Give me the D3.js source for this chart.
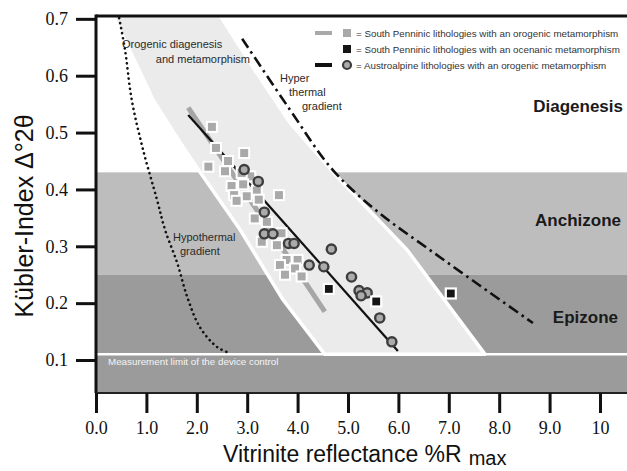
<!DOCTYPE html>
<html>
<head>
<meta charset="utf-8">
<script src="https://cdn.jsdelivr.net/npm/d3@7"></script>
<style>
  body { margin: 0; background: #fff; }
  svg text { font-family: "Liberation Sans", Arial, sans-serif; }
</style>
</head>
<body>
<div id="chart"></div>
<script>
// tick values
var xTicks = [0, 1, 2, 3, 4, 5, 6, 7, 8, 9, 10];
var yTicks = [0.1, 0.2, 0.3, 0.4, 0.5, 0.6, 0.7];

// zone limits (Kübler index)
var zoneLimits = [0.43, 0.25, 0.11];

// orogenic diagenesis and metamorphism band [Rmax, KI]
var bandLeft = [[0.34, 0.706], [1.13, 0.558], [1.67, 0.482], [2.06, 0.431], [2.86, 0.329], [3.71, 0.206], [4.54, 0.11]];
var bandRight = [[7.72, 0.11], [6.17, 0.294], [4.84, 0.417], [3.85, 0.517], [3.15, 0.61], [2.46, 0.706]];

// hypothermal gradient (dotted)
var hypoCurve = [[0.44, 0.71], [0.575, 0.646], [0.708, 0.558], [0.933, 0.470], [1.21, 0.382], [1.37, 0.329], [1.61, 0.271], [1.81, 0.211], [2.06, 0.158], [2.40, 0.123], [2.66, 0.112]];

// hyper thermal gradient (dash-dot)
var hyperCurve = [[2.90, 0.665], [3.85, 0.540], [4.70, 0.434], [5.60, 0.360], [6.57, 0.297], [7.60, 0.232], [8.67, 0.165]];

// regression lines
var regGrey = [[1.83, 0.544], [4.54, 0.185]];
var regBlack = [[1.83, 0.531], [5.99, 0.116]];

// South Penninic, orogenic metamorphism (grey squares)
var spOrogenic = [
  [2.30, 0.510], [2.38, 0.473], [2.94, 0.464], [2.62, 0.450], [2.23, 0.440], [2.56, 0.432],
  [3.06, 0.423], [2.89, 0.429], [2.69, 0.406], [2.92, 0.409], [3.19, 0.398], [3.63, 0.390],
  [2.74, 0.390], [2.99, 0.388], [2.79, 0.380], [3.23, 0.382], [3.15, 0.349], [3.39, 0.343],
  [3.68, 0.323], [3.29, 0.308], [3.59, 0.302], [4.00, 0.276], [3.78, 0.276], [3.65, 0.267],
  [3.95, 0.261], [3.75, 0.250], [4.08, 0.247]
];

// South Penninic, oceanic metamorphism (black squares)
var spOceanic = [[4.62, 0.225], [5.56, 0.203], [7.04, 0.217]];

// Austroalpine, orogenic metamorphism (circles)
var austroalpine = [
  [2.94, 0.435], [3.22, 0.414], [3.34, 0.360], [3.34, 0.322], [3.51, 0.322], [3.82, 0.305],
  [3.93, 0.305], [4.23, 0.267], [4.52, 0.264], [4.67, 0.295], [5.07, 0.246], [5.22, 0.222],
  [5.38, 0.218], [5.26, 0.213], [5.63, 0.174], [5.87, 0.132]
];

var legendLabels = [
  "= South Penninic lithologies with an orogenic metamorphism",
  "= South Penninic lithologies with an ocenanic metamorphism",
  "= Austroalpine lithologies with an orogenic metamorphism"
];

var width = 627, height = 471;
var mLeft = 96, mTop = 16, mRight = 627, mBottom = 393;

var x = d3.scaleLinear().domain([0, 10.536]).range([mLeft, mRight]);
var y = d3.scaleLinear().domain([0.042, 0.705]).range([mBottom, mTop]);

var svg = d3.select("#chart").append("svg")
  .attr("width", width)
  .attr("height", height);

svg.append("clipPath").attr("id", "plot-clip")
  .append("rect")
  .attr("x", mLeft).attr("y", mTop)
  .attr("width", mRight - mLeft).attr("height", mBottom - mTop);

var plot = svg.append("g").attr("clip-path", "url(#plot-clip)");

//zones
plot.append("rect")
  .attr("x", mLeft).attr("y", y(zoneLimits[0]))
  .attr("width", mRight - mLeft).attr("height", y(zoneLimits[1]) - y(zoneLimits[0]))
  .attr("fill", "#bdbdbd");
plot.append("rect")
  .attr("x", mLeft).attr("y", y(zoneLimits[1]))
  .attr("width", mRight - mLeft).attr("height", mBottom - y(zoneLimits[1]))
  .attr("fill", "#9b9b9b");

//orogenic band
var line = d3.line().x(function(d) { return x(d[0]); }).y(function(d) { return y(d[1]); });
plot.append("path")
  .attr("d", line(bandLeft.concat(bandRight)) + "Z")
  .attr("fill", "#ebebeb")
  .attr("stroke", "#fff")
  .attr("stroke-width", 3.5)
  .attr("stroke-linejoin", "round");

//measurement limit
plot.append("line")
  .attr("x1", mLeft).attr("x2", mRight)
  .attr("y1", y(zoneLimits[2])).attr("y2", y(zoneLimits[2]))
  .attr("stroke", "#fff").attr("stroke-width", 2.5);

//gradients
var curve = d3.line().curve(d3.curveCatmullRom)
  .x(function(d) { return x(d[0]); }).y(function(d) { return y(d[1]); });
plot.append("path")
  .attr("d", curve(hypoCurve))
  .attr("fill", "none")
  .attr("stroke", "#111")
  .attr("stroke-width", 2.6)
  .attr("stroke-linecap", "round")
  .attr("stroke-dasharray", "0.1,5");
plot.append("path")
  .attr("d", curve(hyperCurve))
  .attr("fill", "none")
  .attr("stroke", "#111")
  .attr("stroke-width", 2.6)
  .attr("stroke-dasharray", "11,4.5,2.5,4.5");

//regression lines
plot.append("path")
  .attr("d", line(regGrey))
  .attr("stroke", "#a6a6a6").attr("stroke-width", 5).attr("fill", "none");
plot.append("path")
  .attr("d", line(regBlack))
  .attr("stroke", "#111").attr("stroke-width", 2.2).attr("fill", "none");

//points
plot.selectAll(".sq").data(spOrogenic).enter()
  .append("rect").attr("class", "sq")
  .attr("x", function(d) { return x(d[0]) - 5; })
  .attr("y", function(d) { return y(d[1]) - 5; })
  .attr("width", 10).attr("height", 10)
  .attr("fill", "#a9a9a9").attr("stroke", "#fff").attr("stroke-width", 2);

plot.selectAll(".ci").data(austroalpine).enter()
  .append("circle").attr("class", "ci")
  .attr("cx", function(d) { return x(d[0]); })
  .attr("cy", function(d) { return y(d[1]); })
  .attr("r", 4.6)
  .attr("fill", "#ababab").attr("stroke", "#3d3d3d").attr("stroke-width", 2.4);

plot.selectAll(".bsq").data(spOceanic).enter()
  .append("rect").attr("class", "bsq")
  .attr("x", function(d) { return x(d[0]) - 5; })
  .attr("y", function(d) { return y(d[1]) - 5; })
  .attr("width", 10).attr("height", 10)
  .attr("fill", "#151515").attr("stroke", "#fff").attr("stroke-width", 2.2);

//labels in plot
function label(txt, px, py, opts) {
  opts = opts || {};
  plot.append("text")
    .attr("x", px).attr("y", py)
    .attr("text-anchor", opts.anchor || "start")
    .attr("font-size", opts.size || 11)
    .attr("font-weight", opts.weight || "normal")
    .attr("fill", opts.color || "#2a2a2a")
    .text(txt);
}
label("Orogenic diagenesis", 122, 48);
label("and metamorphism", 250, 63, {anchor: "end"});
label("Hyper", 280, 82);
label("thermal", 289, 96);
label("gradient", 302, 110);
label("Hypothermal", 173, 241);
label("gradient", 180, 255);
label("Diagenesis", 623, 112, {anchor: "end", size: 17, weight: "bold", color: "#1a1a1a"});
label("Anchizone", 621, 226, {anchor: "end", size: 17, weight: "bold", color: "#1a1a1a"});
label("Epizone", 618, 323, {anchor: "end", size: 17, weight: "bold", color: "#1a1a1a"});
label("Measurement limit of the device control", 108, 365, {size: 9.8, color: "#f4f4f4"});

//legend
var legend = svg.append("g");
var rowY = [33, 49, 65];
legend.append("line").attr("x1", 315).attr("x2", 332).attr("y1", rowY[0]).attr("y2", rowY[0])
  .attr("stroke", "#a9a9a9").attr("stroke-width", 4);
legend.append("rect").attr("x", 343).attr("y", rowY[0] - 4).attr("width", 8).attr("height", 8)
  .attr("fill", "#a9a9a9");
legend.append("rect").attr("x", 343).attr("y", rowY[1] - 4).attr("width", 8).attr("height", 8)
  .attr("fill", "#151515");
legend.append("line").attr("x1", 315).attr("x2", 332).attr("y1", rowY[2]).attr("y2", rowY[2])
  .attr("stroke", "#111").attr("stroke-width", 4);
legend.append("circle").attr("cx", 347).attr("cy", rowY[2]).attr("r", 4)
  .attr("fill", "#ababab").attr("stroke", "#3d3d3d").attr("stroke-width", 2.2);
legend.selectAll(".lt").data(legendLabels).enter()
  .append("text").attr("class", "lt")
  .attr("x", 356)
  .attr("y", function(d, i) { return rowY[i] + 3.5; })
  .attr("font-size", 9.8)
  .attr("fill", "#333")
  .text(function(d) { return d; });

//frame
svg.append("line").attr("x1", mLeft).attr("x2", mRight).attr("y1", mTop).attr("y2", mTop)
  .attr("stroke", "#111").attr("stroke-width", 3);
svg.append("line").attr("x1", mLeft).attr("x2", mLeft).attr("y1", mTop - 1.5).attr("y2", mBottom)
  .attr("stroke", "#111").attr("stroke-width", 3);
svg.append("line").attr("x1", mLeft).attr("x2", mRight).attr("y1", mBottom).attr("y2", mBottom)
  .attr("stroke", "#222").attr("stroke-width", 2);

//axes
var xAxis = svg.append("g")
  .attr("transform", "translate(0," + mBottom + ")")
  .call(d3.axisBottom(x).tickValues(xTicks).tickSize(20).tickPadding(8)
    .tickFormat(function(d) { return d === 10 ? "10" : d3.format(".1f")(d); }));
var yAxis = svg.append("g")
  .attr("transform", "translate(" + mLeft + ",0)")
  .call(d3.axisLeft(y).tickValues(yTicks).tickSize(20).tickPadding(8).tickFormat(d3.format(".1f")));
[xAxis, yAxis].forEach(function(a) {
  a.select(".domain").remove();
  a.selectAll(".tick line").attr("stroke", "#111").attr("stroke-width", 3);
  a.selectAll(".tick text")
    .style("font-family", "'Liberation Serif', 'Times New Roman', serif")
    .attr("font-size", 18)
    .attr("fill", "#111");
});

//axis titles
var xt = svg.append("text")
  .attr("x", 223).attr("y", 462)
  .attr("font-size", 23)
  .attr("fill", "#111")
  .text("Vitrinite reflectance %R");
xt.append("tspan").attr("dx", 7).attr("dy", 3).attr("font-size", 20).text("max");

svg.append("text")
  .attr("transform", "translate(33,216) rotate(-90)")
  .attr("text-anchor", "middle")
  .attr("font-size", 25)
  .attr("fill", "#111")
  .text("Kübler-Index Δ°2θ");
</script>
</body>
</html>
